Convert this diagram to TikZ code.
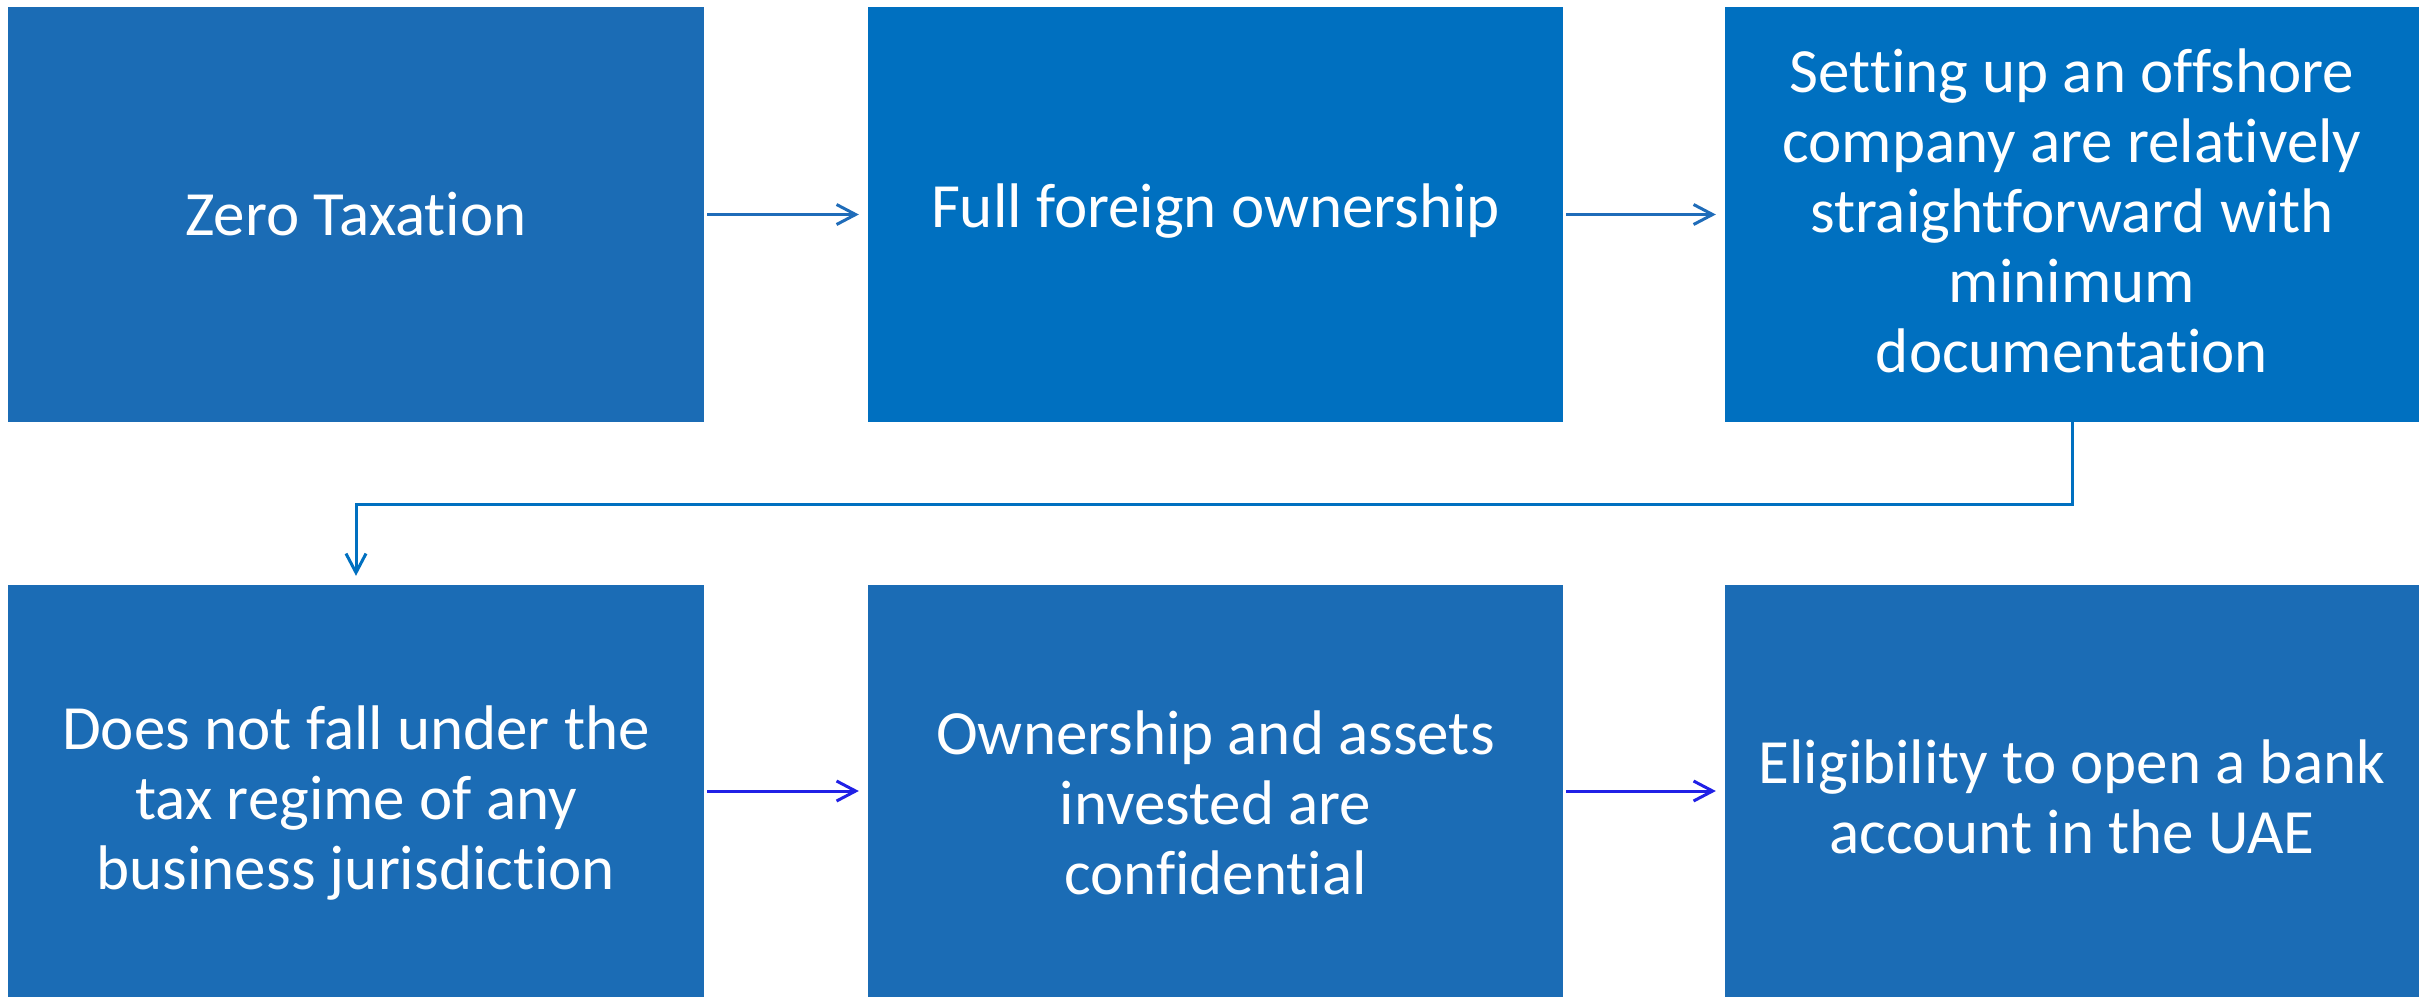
\documentclass[tikz,border=0pt]{standalone}
\usepackage{fontspec}
\setmainfont[Ligatures={NoCommon}]{Carlito}
\usetikzlibrary{arrows.meta}
\definecolor{boxA}{RGB}{27,108,181}
\definecolor{boxB}{RGB}{0,112,192}
\definecolor{arrA}{RGB}{31,108,185}
\definecolor{arrB}{RGB}{0,112,192}
\definecolor{arrC}{RGB}{32,32,230}
\begin{document}
\begin{tikzpicture}[x=1pt,y=-1pt,
  stepbox/.style={rectangle,inner sep=0pt,minimum width=696pt},
  steptext/.style={inner sep=0pt,text=white,align=center,
    font=\fontsize{63}{70}\selectfont},
  rowone/.style={minimum height=415pt},
  rowtwo/.style={minimum height=412pt},
  conn/.style={line width=3pt,-{Straight Barb[length=19pt,width=20pt,line width=3pt]},shorten <=3pt,shorten >=9pt}]
\useasboundingbox (0,0) rectangle (2430,997);
\fill[white] (0,0) rectangle (2430,997);
\node[stepbox,rowone,fill=boxA] (b1) at (356,214.5) {};
\node[stepbox,rowone,fill=boxB,minimum width=695pt] (b2) at (1215.5,214.5) {};
\node[stepbox,rowone,fill=boxB,minimum width=694pt] (b3) at (2072,214.5) {};
\node[stepbox,rowtwo,fill=boxA] (b4) at (356,791) {};
\node[stepbox,rowtwo,fill=boxA,minimum width=695pt] (b5) at (1215.5,791) {};
\node[stepbox,rowtwo,fill=boxA,minimum width=694pt] (b6) at (2072,791) {};
\node[steptext] (t1) at (356,214.5) {Zero Taxation};
\node[steptext] (t2) at (1215.5,211.5) {Full foreign ownership};
\node[steptext] (t3) at (2072,210.5) {Setting up an offshore\\company are relatively\\straightforward with\\minimum\\documentation};
\node[steptext] (t4) at (356,803) {Does not fall under the\\tax regime of any\\business jurisdiction};
\node[steptext] (t5) at (1215.5,803) {Ownership and assets\\invested are\\confidential};
\node[steptext] (t6) at (2072,797) {Eligibility to open a bank\\account in the UAE};
\draw[conn,arrA] (b1) -- (b2);
\draw[conn,arrA] (b2) -- (b3);
\draw[conn,arrB,shorten <=0pt] (b3.south) -- ++(0,82) -| (b4.north);
\draw[conn,arrC] (b4) -- (b5);
\draw[conn,arrC] (b5) -- (b6);
\end{tikzpicture}
\end{document}
